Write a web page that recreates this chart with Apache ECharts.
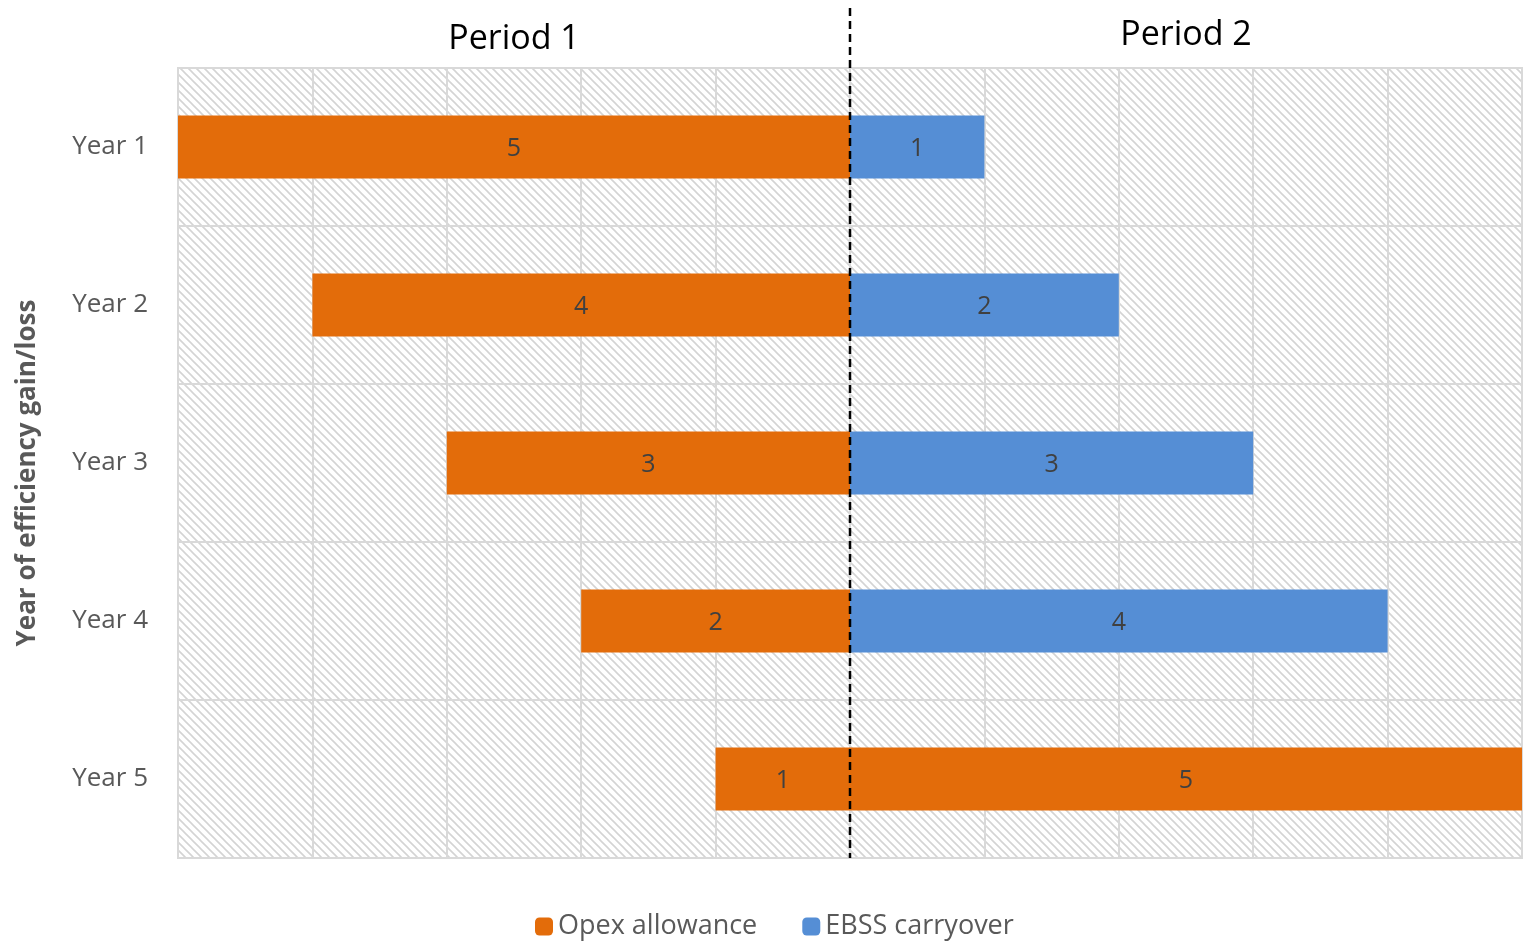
<!DOCTYPE html>
<html>
<head>
<meta charset="utf-8">
<script src="https://cdn.jsdelivr.net/npm/echarts@6/dist/echarts.min.js"></script>
<style>
  html, body { margin: 0; padding: 0; background: #fff; }
  #chart { width: 1524px; height: 945px; }
</style>
</head>
<body>
<div id="chart"></div>
<script>
// categories and values
var years = ["Year 1", "Year 2", "Year 3", "Year 4", "Year 5"];
var offsets = [0, 1, 2, 3, 4];          // invisible spacer before each bar
var opexAllowance = [5, 4, 3, 2, 1];    // period 1 opex
var ebssCarryover = [1, 2, 3, 4, null]; // period 2 carryover
var opexPeriod2 = [null, null, null, null, 5];
var periodNames = ["Period 1", "Period 2"];
var periodCentres = [2.5, 7.5];
var periodSplit = 5;

var FONT = "'Open Sans', sans-serif";
var ORANGE = "#e36c0a";
var BLUE = "#558ed5";

// diagonal hatch for the plot background
function hatch() {
  var c = document.createElement("canvas");
  c.width = 8; c.height = 8;
  var ctx = c.getContext("2d");
  ctx.fillStyle = "#ffffff";
  ctx.fillRect(0, 0, 8, 8);
  ctx.strokeStyle = "#d4d4d4";
  ctx.lineWidth = 1.6;
  ctx.beginPath();
  ctx.moveTo(-1, -1); ctx.lineTo(9, 9);
  ctx.moveTo(-1, 7); ctx.lineTo(1, 9);
  ctx.moveTo(7, -1); ctx.lineTo(9, 1);
  ctx.stroke();
  return c;
}

var chart = echarts.init(document.getElementById("chart"));

var label = {
  show: true,
  position: "inside",
  color: "#404040",
  fontSize: 25,
  fontFamily: FONT,
  offset: [0, 2],
  formatter: function (p) { return p.value == null ? "" : p.value; }
};

var option = {
  animation: false,
  grid: {
    left: 178, right: 2, top: 68, bottom: 87,
    show: true,
    backgroundColor: { image: hatch(), repeat: "repeat" },
    borderColor: "#d9d9d9",
    borderWidth: 2
  },
  legend: {
    top: 908,
    left: 530,
    itemWidth: 18,
    itemHeight: 18,
    itemGap: 45,
    data: ["Opex allowance", "EBSS carryover"],
    textStyle: { fontSize: 27, color: "#595959", fontFamily: FONT }
  },
  xAxis: {
    type: "value",
    min: 0,
    max: 10,
    interval: 1,
    axisLine: { show: false },
    axisTick: { show: false },
    axisLabel: { show: false },
    splitLine: { show: true, lineStyle: { color: "#d9d9d9", width: 2 } }
  },
  yAxis: {
    type: "category",
    data: years,
    inverse: true,
    axisLine: { show: false },
    axisTick: { show: false },
    axisLabel: {
      margin: 30, fontSize: 26, color: "#595959", fontFamily: FONT,
      lineHeight: 30, padding: [6, 0, 0, 0]
    },
    splitLine: { show: true, lineStyle: { color: "#d9d9d9", width: 2 } },
    name: "Year of efficiency gain/loss",
    nameLocation: "middle",
    nameGap: 137,
    nameTextStyle: { fontSize: 26, fontWeight: "bold", color: "#595959", fontFamily: FONT, padding: [0, 20, 0, 0] }
  },
  series: [
    {
      name: "offset",
      type: "bar",
      stack: "s",
      data: offsets,
      itemStyle: { color: "transparent" },
      silent: true,
      barCategoryGap: "60%"
    },
    {
      name: "Opex allowance",
      type: "bar",
      stack: "s",
      data: opexAllowance,
      itemStyle: { color: ORANGE },
      label: label
    },
    {
      name: "EBSS carryover",
      type: "bar",
      stack: "s",
      data: ebssCarryover,
      itemStyle: { color: BLUE },
      label: label
    },
    {
      name: "Opex period 2",
      type: "bar",
      stack: "s",
      data: opexPeriod2,
      itemStyle: { color: ORANGE },
      label: label
    }
  ]
};

chart.setOption(option);

// period headings and the dashed divider, placed via the x axis scale
var splitX = chart.convertToPixel({ xAxisIndex: 0 }, periodSplit);
var graphics = periodNames.map(function (name, i) {
  return {
    type: "text",
    x: chart.convertToPixel({ xAxisIndex: 0 }, periodCentres[i]),
    y: i === 0 ? 39 : 35,
    style: {
      text: name,
      fontSize: 34,
      fill: "#000",
      fontFamily: FONT,
      align: "center",
      verticalAlign: "middle"
    },
    z: 100
  };
});
graphics.push({
  type: "line",
  shape: { x1: splitX, y1: 8, x2: splitX, y2: 858 },
  style: { stroke: "#000", lineWidth: 2.5, lineDash: [8, 5] },
  z: 100
});
chart.setOption({ graphic: graphics });
</script>
</body>
</html>
